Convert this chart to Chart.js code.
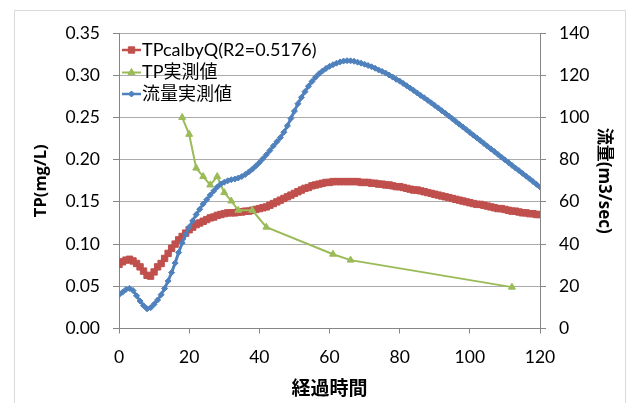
<!DOCTYPE html>
<html>
<head>
<meta charset="utf-8">
<script src="https://cdn.jsdelivr.net/npm/chart.js@4/dist/chart.umd.min.js"></script>
<style>
  html, body { margin: 0; padding: 0; background: #ffffff; }
  #wrap { position: relative; width: 628px; height: 403px; }
</style>
</head>
<body>
<div id="wrap"><canvas id="c" width="628" height="403"></canvas></div>
<script>
// Series names (legend order)
const seriesNames = ['TPcalbyQ(R2=0.5176)', 'TP実測値', '流量実測値'];

// Elapsed time (h) for the hourly series
const hours = [0,1,2,3,4,5,6,7,8,9,10,11,12,13,14,15,16,17,18,19,20,21,22,23,24,25,26,27,28,29,30,
  31,32,33,34,35,36,37,38,39,40,41,42,43,44,45,46,47,48,49,50,51,52,53,54,55,56,57,58,59,60,
  61,62,63,64,65,66,67,68,69,70,71,72,73,74,75,76,77,78,79,80,81,82,83,84,85,86,87,88,89,90,
  91,92,93,94,95,96,97,98,99,100,101,102,103,104,105,106,107,108,109,110,111,112,113,114,115,116,117,118,119,120];

// TP estimated from discharge (mg/L)
const tpCalc = [0.076,0.079,0.081,0.082,0.080,0.077,0.073,0.068,0.063,0.062,0.067,0.073,0.077,0.083,0.089,0.095,
  0.100,0.105,0.109,0.113,0.117,0.120,0.123,0.125,0.127,0.129,0.131,0.132,0.134,0.135,0.136,
  0.137,0.137,0.137,0.138,0.138,0.139,0.139,0.140,0.141,0.142,0.143,0.144,0.146,0.148,0.150,
  0.152,0.154,0.156,0.158,0.160,0.162,0.164,0.166,0.167,0.169,0.170,0.171,0.172,0.173,0.173,
  0.174,0.174,0.174,0.174,0.174,0.174,0.174,0.174,0.173,0.173,0.173,0.172,0.172,0.171,0.171,
  0.170,0.170,0.169,0.168,0.168,0.167,0.166,0.165,0.164,0.164,0.163,0.162,0.161,0.160,0.159,
  0.158,0.157,0.156,0.155,0.154,0.153,0.152,0.151,0.150,0.149,0.148,0.147,0.147,0.146,0.145,
  0.144,0.143,0.142,0.142,0.141,0.140,0.139,0.139,0.138,0.137,0.137,0.136,0.136,0.135,0.135];

// Observed discharge (m3/sec)
const flowObs = [16.0,17.2,18.5,19.0,18.0,15.5,13.0,10.8,9.3,9.8,11.5,13.5,16.0,19.0,22.5,26.5,
  31.0,36.0,40.5,44.5,48.0,51.0,54.0,56.5,59.0,61.0,63.2,65.2,67.0,68.5,69.3,
  70.0,70.5,70.8,71.3,72.0,73.0,74.2,75.5,77.0,78.6,80.4,82.3,84.3,86.5,88.5,
  90.5,93.0,96.0,99.5,103.0,106.5,109.5,112.2,114.8,117.0,119.0,120.7,122.0,123.2,124.2,
  125.0,125.7,126.3,126.7,126.9,126.8,126.6,126.2,125.7,125.2,124.6,124.0,123.3,122.5,121.8,
  121.0,120.1,119.1,118.1,117.2,116.1,115.0,113.9,112.8,111.6,110.4,109.3,108.1,106.9,105.7,
  104.5,103.2,102.0,100.7,99.4,98.1,96.8,95.5,94.2,92.9,91.6,90.3,89.0,87.7,86.4,
  85.1,83.8,82.5,81.2,79.9,78.6,77.3,76.0,74.8,73.5,72.2,70.9,69.6,68.3,67.0];

// Observed TP samples
const tpObsHours = [18, 20, 22, 24, 26, 28, 30, 32, 34, 38, 42, 61, 66, 112];
const tpObs = [0.250, 0.230, 0.190, 0.180, 0.170, 0.180, 0.161, 0.151, 0.140, 0.140, 0.120, 0.088, 0.081, 0.049];

// Axis ticks
const tpTicks = [0, 0.05, 0.10, 0.15, 0.20, 0.25, 0.30, 0.35];
const flowTicks = [0, 20, 40, 60, 80, 100, 120, 140];
const hourTicks = [0, 20, 40, 60, 80, 100, 120];

const RED = '#c0504d', GREEN = '#9bbb59', BLUE = '#4f81bd';
const FONT = "Lato, 'Noto Sans CJK JP', sans-serif";
const TITLE_FONT = "'Open Sans', 'Noto Sans CJK JP', sans-serif";

const pts = (xs, ys) => xs.map((x, i) => ({ x: x, y: ys[i] }));

// Outer frame of the chart object
const framePlugin = {
  id: 'frame',
  beforeDraw(chart) {
    const ctx = chart.ctx;
    ctx.save();
    ctx.fillStyle = '#ffffff';
    ctx.fillRect(0, 0, chart.width, chart.height);
    ctx.strokeStyle = '#d9d9d9';
    ctx.lineWidth = 1;
    ctx.strokeRect(14.5, 10.5, 611, 400);
    ctx.restore();
  }
};

// Legend drawn inside the plot area, top-left
const insideLegend = {
  id: 'insideLegend',
  afterDatasetsDraw(chart) {
    const ctx = chart.ctx;
    const left = chart.chartArea.left + 3;
    const rows = [50, 72.5, 94];
    ctx.save();
    chart.data.datasets.forEach((ds, r) => {
      const y = rows[r];
      ctx.strokeStyle = ds.borderColor;
      ctx.lineWidth = Math.min(ds.borderWidth, 2.5);
      ctx.beginPath();
      ctx.moveTo(left, y);
      ctx.lineTo(left + 19, y);
      ctx.stroke();
      ctx.fillStyle = ds.pointBackgroundColor;
      ctx.strokeStyle = ds.pointBorderColor;
      ctx.lineWidth = 1;
      Chart.helpers.drawPoint(ctx, {
        pointStyle: ds.pointStyle,
        radius: ds.pointRadius,
        borderWidth: 1,
        rotation: 0
      }, left + 9.5, y);
      ctx.fillStyle = '#000000';
      ctx.font = '18px ' + FONT;
      ctx.textBaseline = 'middle';
      ctx.textAlign = 'left';
      ctx.fillText(ds.label, left + 20, y);
    });
    ctx.restore();
  }
};

new Chart(document.getElementById('c'), {
  type: 'line',
  data: {
    datasets: [
      {
        label: seriesNames[0],
        data: pts(hours, tpCalc),
        yAxisID: 'yTP',
        borderColor: RED,
        backgroundColor: RED,
        pointBackgroundColor: RED,
        pointBorderColor: RED,
        borderWidth: 4,
        pointStyle: 'rect',
        pointRadius: 4.5,
        pointBorderWidth: 1,
        order: 2
      },
      {
        label: seriesNames[1],
        data: pts(tpObsHours, tpObs),
        yAxisID: 'yTP',
        borderColor: GREEN,
        backgroundColor: GREEN,
        pointBackgroundColor: GREEN,
        pointBorderColor: GREEN,
        borderWidth: 2,
        pointStyle: 'triangle',
        pointRadius: 4,
        pointBorderWidth: 1,
        order: 1
      },
      {
        label: seriesNames[2],
        data: pts(hours, flowObs),
        yAxisID: 'yQ',
        borderColor: BLUE,
        backgroundColor: BLUE,
        pointBackgroundColor: BLUE,
        pointBorderColor: BLUE,
        borderWidth: 3,
        pointStyle: 'rectRot',
        pointRadius: 3,
        pointBorderWidth: 1,
        order: 0
      }
    ]
  },
  options: {
    responsive: false,
    animation: false,
    devicePixelRatio: 1,
    layout: { padding: { top: 33, left: 0, right: 0, bottom: 0 } },
    elements: { line: { tension: 0 } },
    plugins: { legend: { display: false }, tooltip: { enabled: false } },
    scales: {
      x: {
        type: 'linear',
        min: 0, max: 120,
        afterBuildTicks: s => { s.ticks = hourTicks.map(v => ({ value: v })); },
        afterFit: s => { s.height = 74.5; },
        grid: { drawOnChartArea: false, drawTicks: true, tickLength: 5, color: '#868686' },
        border: { color: '#868686', width: 1 },
        ticks: { color: '#000000', font: { family: FONT, size: 17.5 }, padding: 13, maxRotation: 0 },
        title: {
          display: true, text: '経過時間', color: '#000000',
          font: { family: TITLE_FONT, size: 19, weight: 'bold' },
          padding: { top: 0, bottom: 2 }
        }
      },
      yTP: {
        type: 'linear', position: 'left',
        min: 0, max: 0.35,
        afterBuildTicks: s => { s.ticks = tpTicks.map(v => ({ value: v })); },
        afterFit: s => { s.width = 119; },
        grid: { color: '#ababab', drawTicks: true, tickLength: 6, tickColor: '#868686' },
        border: { color: '#868686', width: 1 },
        ticks: { color: '#000000', font: { family: FONT, size: 17.5 }, padding: 13,
                 callback: v => Number(v).toFixed(2) },
        title: {
          display: true, text: 'TP(mg/L)', color: '#000000',
          font: { family: TITLE_FONT, size: 16.5, weight: 'bold' },
          padding: { top: 31, bottom: 0 }
        }
      },
      yQ: {
        type: 'linear', position: 'right',
        min: 0, max: 140,
        afterBuildTicks: s => { s.ticks = flowTicks.map(v => ({ value: v })); },
        afterFit: s => { s.width = 88; },
        grid: { drawOnChartArea: false, drawTicks: true, tickLength: 6, color: '#868686' },
        border: { color: '#868686', width: 1 },
        ticks: { color: '#000000', font: { family: FONT, size: 17.5 }, padding: 13 },
        title: {
          display: true, text: '流量(m3/sec)', color: '#000000',
          font: { family: TITLE_FONT, size: 17, weight: 'bold' },
          padding: { top: 14, bottom: 0 }
        }
      }
    }
  },
  plugins: [framePlugin, insideLegend]
});
</script>
</body>
</html>
